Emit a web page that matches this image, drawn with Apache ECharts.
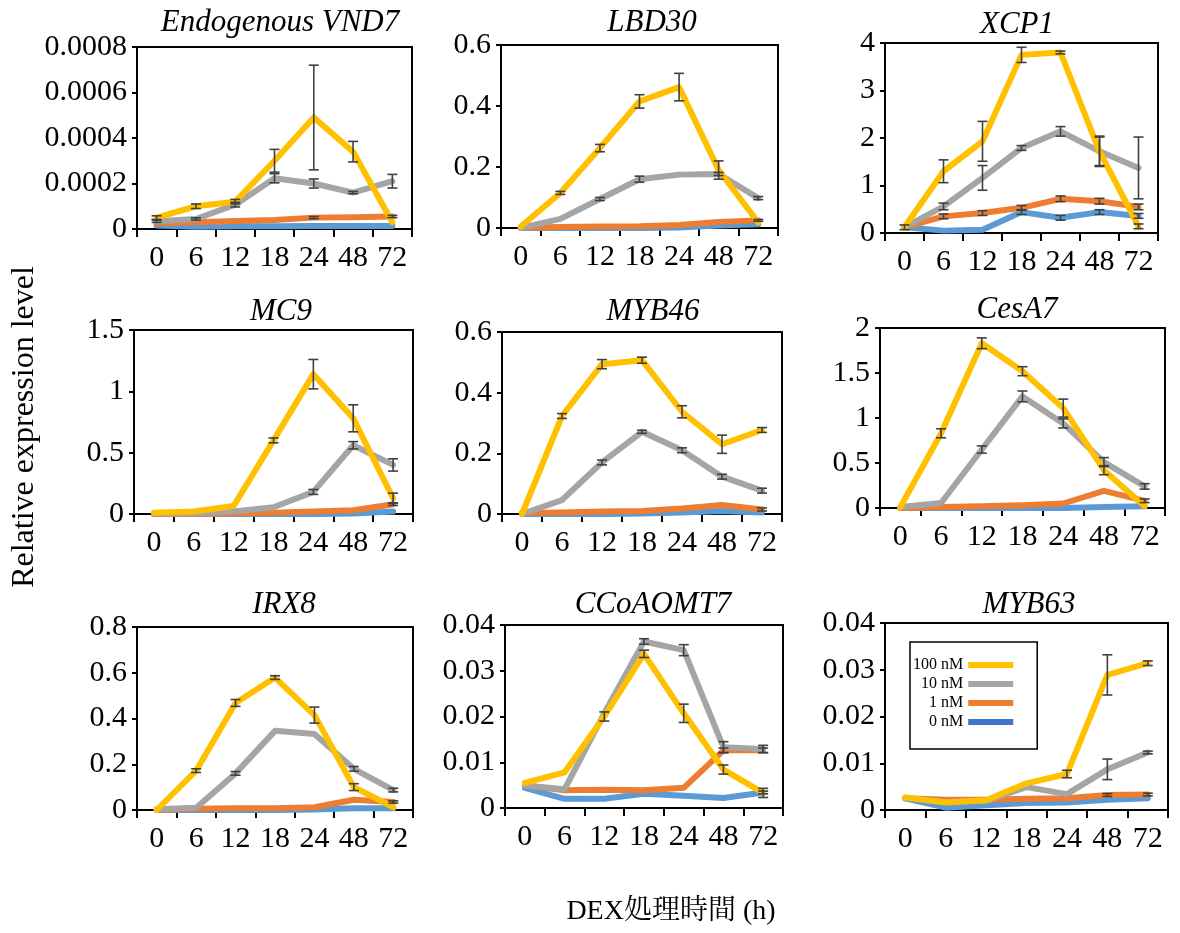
<!DOCTYPE html>
<html><head><meta charset="utf-8">
<script src="https://cdn.jsdelivr.net/npm/echarts@6/dist/echarts.min.js"></script>
<style>html,body{margin:0;padding:0;background:#fff}#c{width:1180px;height:933px}</style>
</head><body><div id="c"></div>
<script>
const categories = ['0','6','12','18','24','48','72'];
const genes = ['Endogenous VND7','LBD30','XCP1','MC9','MYB46','CesA7','IRX8','CCoAOMT7','MYB63'];
const seriesNames = ['100 nM','10 nM','1 nM','0 nM'];
const yMax = [0.0008,0.6,4,1.5,0.6,2,0.8,0.04,0.04];
const yStep = [0.0002,0.2,1,0.5,0.2,0.5,0.2,0.01,0.01];
const yTitle = 'Relative expression level';
const xTitle = 'DEX処理時間 (h)';

const val100 = [
 [0.00005,0.0001,0.00012,0.0003,0.00049,0.00034,0.00003],
 [0.005,0.115,0.262,0.415,0.462,0.19,0.018],
 [0.12,1.3,1.93,3.75,3.8,1.72,0.14],
 [0.01,0.02,0.065,0.6,1.14,0.78,0.13],
 [0.0,0.323,0.494,0.507,0.337,0.23,0.277],
 [0.01,0.83,1.83,1.52,1.11,0.42,0.02],
 [0.0,0.172,0.468,0.579,0.415,0.1,0.012],
 [0.0055,0.0078,0.02,0.0337,0.0207,0.0084,0.0033],
 [0.0027,0.0016,0.0021,0.0057,0.0077,0.0289,0.0314]
];
const err100 = [
 [0.000008,0.00001,0.00001,0.00005,0.00023,0.000045,0],
 [0,0.005,0.012,0.022,0.045,0.03,0],
 [0,0.24,0.42,0.16,0.03,0.3,0.05],
 [0,0,0,0.02,0.12,0.11,0.04],
 [0,0.008,0.015,0.01,0.02,0.03,0.008],
 [0,0.05,0.06,0.05,0.1,0.05,0],
 [0,0.008,0.015,0.008,0.035,0.015,0],
 [0,0,0.001,0.0008,0.002,0.001,0.001],
 [0,0,0,0,0.0008,0.0043,0.0005]
];
const val10 = [
 [0.000034,0.000044,0.000107,0.000223,0.0002,0.00016,0.00021],
 [0,0.03,0.095,0.16,0.175,0.177,0.098],
 [0.12,0.56,1.16,1.79,2.14,1.72,1.37],
 [0.005,0.005,0.02,0.055,0.18,0.56,0.4],
 [0,0.046,0.17,0.271,0.21,0.123,0.077],
 [0.01,0.055,0.65,1.24,0.94,0.51,0.24],
 [0.003,0.01,0.16,0.346,0.332,0.18,0.087],
 [0.0049,0.0041,0.0207,0.0364,0.0345,0.0133,0.0129],
 [0.0025,0.0017,0.002,0.0049,0.0034,0.0087,0.0123]
];
const err10 = [
 [0.000005,0.000005,0.00001,0.00002,0.00002,0.000005,0.00003],
 [0,0,0.005,0.01,0,0.005,0.005],
 [0,0.07,0.26,0.05,0.1,0.32,0.65],
 [0,0,0,0,0.02,0.03,0.05],
 [0,0,0.008,0.005,0.008,0.008,0.008],
 [0,0,0.04,0.06,0.05,0.05,0.03],
 [0,0,0.008,0,0,0.01,0.008],
 [0,0,0,0.0006,0.0012,0.0012,0.0008],
 [0,0,0,0,0,0.0022,0.0003]
];
const val1 = [
 [0.000025,0.00003,0.000035,0.00004,0.00005,0.000052,0.000055],
 [0.001,0.003,0.005,0.006,0.01,0.02,0.025],
 [0.12,0.35,0.42,0.53,0.72,0.67,0.55],
 [0,0,0.005,0.01,0.02,0.03,0.08],
 [0.003,0.005,0.008,0.01,0.018,0.03,0.015],
 [0,0.01,0.02,0.03,0.05,0.19,0.08],
 [0,0.005,0.008,0.008,0.012,0.045,0.035],
 [0.0049,0.0039,0.004,0.0039,0.0044,0.0126,0.0126],
 [0.0025,0.0022,0.0022,0.0024,0.0025,0.0032,0.0033]
];
const err1 = [
 [0,0,0,0,0.000005,0,0.000005],
 [0,0,0,0,0,0,0.003],
 [0,0.05,0.05,0.05,0.06,0.06,0.06],
 [0,0,0,0,0,0,0.01],
 [0,0,0,0,0,0,0.005],
 [0,0,0,0,0,0,0.02],
 [0,0,0,0,0,0,0.005],
 [0,0,0,0,0,0.0005,0.0005],
 [0,0,0,0,0,0.0003,0.0003]
];
const val0 = [
 [0.000015,0.00001,0.000012,0.000012,0.000013,0.000013,0.000013],
 [0,0,0,0,0.002,0.008,0.012],
 [0.12,0.05,0.07,0.44,0.32,0.44,0.36],
 [0,0,0,0,0,0.005,0.02],
 [0,0,0,0.002,0.005,0.01,0.005],
 [0,0,0,0,0,0.01,0.02],
 [0,0,0,0,0.002,0.008,0.008],
 [0.0044,0.002,0.002,0.0031,0.0027,0.0022,0.0034],
 [0.0025,0.0005,0.001,0.0015,0.0016,0.0022,0.0025]
];
const err0 = [
 [0,0,0,0,0,0,0],
 [0,0,0,0,0,0,0],
 [0.05,0,0,0.05,0.05,0.05,0.05],
 [0,0,0,0,0,0,0],
 [0,0,0,0,0,0,0],
 [0,0,0,0,0,0,0],
 [0,0,0,0,0,0,0],
 [0,0,0,0,0,0,0.0003],
 [0,0,0,0,0,0,0]
];

const gridBoxes = [
 [137,47,275,182],[501,45,277,183],[885,43,273,190],
 [134,330,279,184],[502,332,280,182],[880,328,285,180],
 [137,627,276,183],[505,625,278,183],[885,623,283,187]
];
const titlePos = [[280,23],[652,23],[1017,25],[281,312],[653,312],[1017,310],[284,605],[653,605],[1029,605]];
const colors = {'100 nM':'#FFC000','10 nM':'#A5A5A5','1 nM':'#ED7D31','0 nM':'#5B9BD5'};
const FONT = 'Liberation Serif, Times New Roman, serif';

const grid=[], xAxis=[], yAxis=[], series=[], graphic=[];
function errRender(params, api){
  const x = api.value(0), v = api.value(1), e = api.value(2);
  const t = api.coord([x, v+e]); const b = api.coord([x, v-e]);
  const cap = 5;
  const style = {stroke:'#404040', lineWidth:1.6};
  return {type:'group', children:[
    {type:'line', shape:{x1:t[0],y1:t[1],x2:b[0],y2:b[1]}, style},
    {type:'line', shape:{x1:t[0]-cap,y1:t[1],x2:t[0]+cap,y2:t[1]}, style},
    {type:'line', shape:{x1:b[0]-cap,y1:b[1],x2:b[0]+cap,y2:b[1]}, style}
  ]};
}
const drawOrder = [['0 nM',val0,err0],['1 nM',val1,err1],['10 nM',val10,err10],['100 nM',val100,err100]];
genes.forEach((g,i)=>{
  const [l,t,w,h] = gridBoxes[i];
  grid.push({left:l, top:t, width:w, height:h, show:true, borderColor:'#000', borderWidth:2, backgroundColor:'transparent'});
  xAxis.push({type:'category', gridIndex:i, data:categories, boundaryGap:true,
    axisLine:{show:true, lineStyle:{color:'#000', width:2}},
    axisTick:{show:true, inside:false, length:8, lineStyle:{color:'#000', width:2}},
    axisLabel:{interval:0, margin:14, color:'#000', fontSize:30, fontFamily:FONT}});
  yAxis.push({type:'value', gridIndex:i, min:0, max:yMax[i], interval:yStep[i],
    splitLine:{show:false},
    axisLine:{show:true, lineStyle:{color:'#000', width:2}},
    axisTick:{show:true, length:5, lineStyle:{color:'#000', width:2}},
    axisLabel:{margin:10, color:'#000', fontSize:30, fontFamily:FONT}});
  drawOrder.forEach(([name, vals, errs], k)=>{
    series.push({type:'line', name, xAxisIndex:i, yAxisIndex:i, data:vals[i], symbol:'none',
      lineStyle:{width:6, color:colors[name], cap:'round', join:'round'}, itemStyle:{color:colors[name]},
      z:2+k, silent:true, animation:false});
  });
  drawOrder.forEach(([name, vals, errs], k)=>{
    const d = [];
    errs[i].forEach((e,j)=>{ if(e>0) d.push([j, vals[i][j], e]); });
    if(d.length) series.push({type:'custom', name:'err-'+name, xAxisIndex:i, yAxisIndex:i,
      renderItem:errRender, data:d, encode:{x:0,y:1}, z:10, silent:true, animation:false, clip:true});
  });
  graphic.push({type:'text', x:titlePos[i][0], y:titlePos[i][1], style:{text:g, fontSize:31, fontFamily:FONT,
    fontStyle:'italic', fill:'#000', align:'center', verticalAlign:'middle'}});
});
graphic.push({type:'text', x:25, y:427, rotation:Math.PI/2, style:{text:yTitle, fontSize:32, fontFamily:FONT,
  fill:'#000', align:'center', verticalAlign:'middle'}});
graphic.push({type:'text', x:671, y:912, style:{text:xTitle, fontSize:28,
  fontFamily:'Liberation Serif, Noto Serif CJK JP, Noto Sans CJK JP, serif', fill:'#000', align:'center', verticalAlign:'middle'}});

const chart = echarts.init(document.getElementById('c'), null, {renderer:'canvas'});
chart.setOption({
  animation:false,
  backgroundColor:'#fff',
  grid, xAxis, yAxis, series, graphic,
  legend:{show:true, orient:'vertical', left:910, top:642, align:'right',
    data:[{name:'100 nM'},{name:'10 nM'},{name:'1 nM'},{name:'0 nM', itemStyle:{color:'#4472C4'}}],
    icon:'rect', itemWidth:45, itemHeight:6, itemGap:3,
    padding:[15,24,19,3], borderColor:'#000', borderWidth:1.5, backgroundColor:'#fff',
    textStyle:{fontSize:16, fontFamily:FONT, color:'#000'}, selectedMode:false}
});
</script></body></html>
